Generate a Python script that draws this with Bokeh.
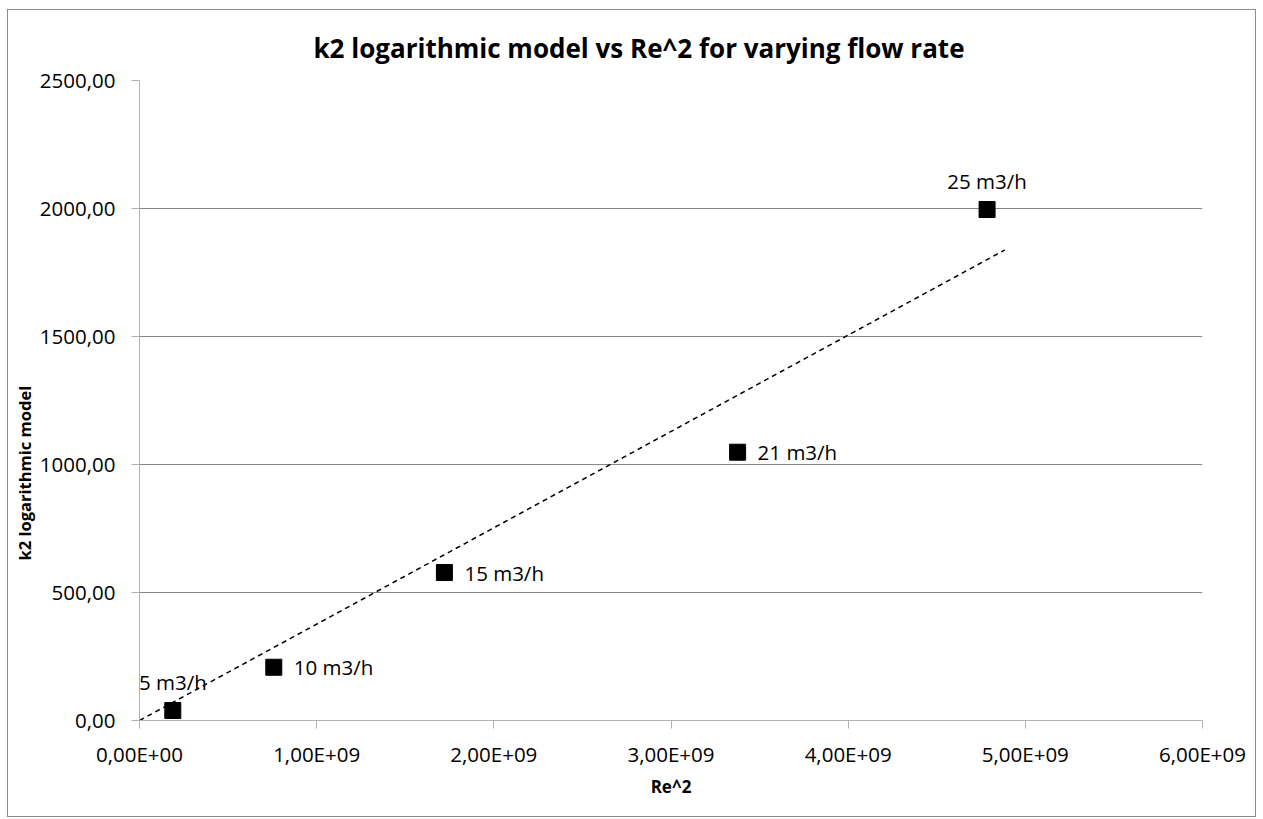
from bokeh.plotting import figure
from bokeh.models import ColumnDataSource, FixedTicker, Title
from bokeh.embed import file_html
from bokeh.resources import INLINE
import numpy as np

# Measured points: Re^2 against the k2 logarithmic model, one per flow rate
flow_labels = ["5 m3/h", "10 m3/h", "15 m3/h", "21 m3/h", "25 m3/h"]
re_squared = [0.188e9, 0.758e9, 1.721e9, 3.376e9, 4.784e9]
k2_log_model = [39.0, 208.0, 578.0, 1048.0, 1996.0]

# Where each point's label sits relative to its marker
label_side = ["above", "right", "right", "right", "above"]

x_ticks = [0, 1e9, 2e9, 3e9, 4e9, 5e9, 6e9]
x_tick_labels = ["0,00E+00", "1,00E+09", "2,00E+09", "3,00E+09",
                 "4,00E+09", "5,00E+09", "6,00E+09"]
y_ticks = [0, 500, 1000, 1500, 2000, 2500]
y_tick_labels = ["0,00", "500,00", "1000,00", "1500,00", "2000,00", "2500,00"]

FONT = "Open Sans"
GRID = "#868686"
AXIS = "#b3b3b3"

p = figure(width=1249, height=808, output_backend="svg", toolbar_location=None,
           x_range=(0, 6e9), y_range=(0, 2500),
           min_border_left=131, min_border_right=55,
           min_border_top=70, min_border_bottom=98,
           background_fill_color="white", border_fill_color="white",
           outline_line_color=None,
           styles={"margin-left": "7px", "margin-top": "9px",
                   "border": "1px solid #8c8c8c"})

p.add_layout(Title(text="k2 logarithmic model vs Re^2 for varying flow rate",
                   text_font=FONT, text_font_size="26px", text_font_style="bold",
                   text_color="#000000", align="left", offset=174, standoff=30),
             "above")

# Linear trend forced through the origin, extended slightly past the last point
xs = np.array(re_squared)
ys = np.array(k2_log_model)
slope = float((xs * ys).sum() / (xs * xs).sum())
trend_x = [0.0, xs.max() + 0.1e9]
trend_y = [slope * v for v in trend_x]
p.line(trend_x, trend_y, line_color="#000000", line_width=1.5, line_dash="5 4")

src = ColumnDataSource(dict(
    x=re_squared, y=k2_log_model, label=flow_labels,
    dx=[0 if s == "above" else 20 for s in label_side],
    dy=[-29 if s == "above" else 0 for s in label_side],
    align=["center" if s == "above" else "left" for s in label_side],
))
p.scatter("x", "y", source=src, marker="square", size=16,
          fill_color="#000000", line_color="#000000")
p.text("x", "y", text="label", source=src, x_offset="dx", y_offset="dy",
       text_align="align", text_baseline="middle",
       text_font={"value": FONT}, text_font_size="20.5px", text_color="#000000")

# Axes
p.xaxis.ticker = FixedTicker(ticks=x_ticks)
p.xaxis.major_label_overrides = {t: l for t, l in zip(x_ticks, x_tick_labels)}
p.yaxis.ticker = FixedTicker(ticks=y_ticks)
p.yaxis.major_label_overrides = {t: l for t, l in zip(y_ticks, y_tick_labels)}

for ax in (p.xaxis, p.yaxis):
    ax.axis_line_color = AXIS
    ax.major_tick_line_color = AXIS
    ax.major_tick_out = 8
    ax.major_tick_in = 0
    ax.minor_tick_line_color = None
    ax.major_label_text_font = FONT
    ax.major_label_text_font_size = "20.5px"
    ax.major_label_text_color = "#000000"
    ax.axis_label_text_font = FONT
    ax.axis_label_text_font_size = "17px"
    ax.axis_label_text_font_style = "bold"
    ax.axis_label_text_color = "#000000"

p.xaxis.axis_label = "Re^2"
p.xaxis.major_label_standoff = 11
p.xaxis.axis_label_standoff = 4
p.yaxis.major_label_standoff = 16

# Vertical axis title, set in its own side panel outside the y axis
p.add_layout(Title(text="k2 logarithmic model", align="left", offset=160,
                   standoff=2, text_font=FONT, text_font_size="16.5px",
                   text_font_style="bold", text_color="#000000"),
             "left")

p.xgrid.grid_line_color = None
p.ygrid.grid_line_color = GRID
p.ygrid.grid_line_width = 1

open("out.html", "w").write(file_html(p, INLINE))
